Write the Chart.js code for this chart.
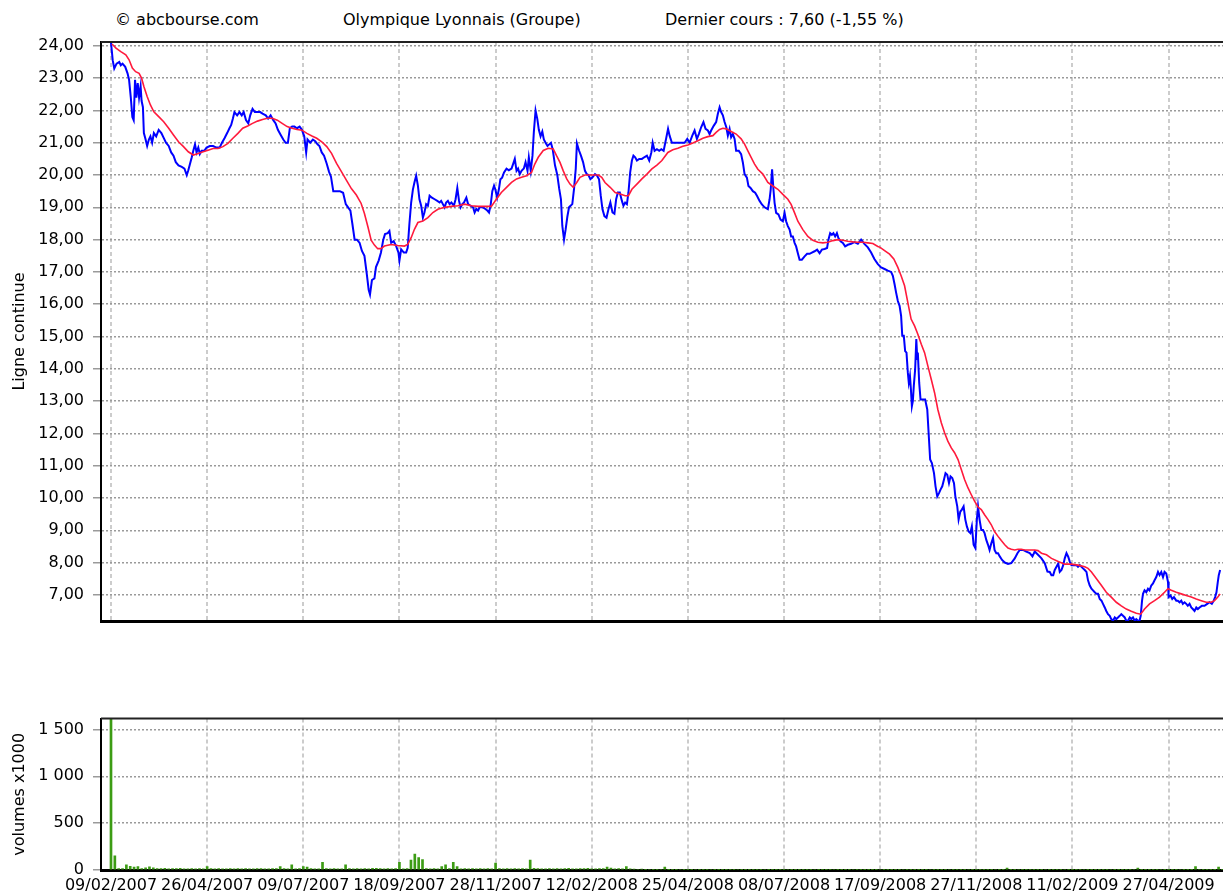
<!DOCTYPE html>
<html>
<head>
<meta charset="utf-8">
<script src="https://cdn.jsdelivr.net/npm/chart.js@4.4.1/dist/chart.umd.min.js"></script>
<style>
  body { margin: 0; background: #fff; width: 1223px; height: 894px; overflow: hidden; position: relative; }
  canvas { position: absolute; left: 0; }
  .head { position: absolute; top: 11px; font: 16px "DejaVu Sans", sans-serif; line-height: 18px; color: #000; white-space: nowrap; }
</style>
</head>
<body>
<div class="head" style="left:115px">© abcbourse.com</div>
<div class="head" style="left:343px">Olympique Lyonnais (Groupe)</div>
<div class="head" style="left:665px">Dernier cours : 7,60 (-1,55 %)</div>
<canvas id="priceChart" width="1223" height="650" style="top:0"></canvas>
<canvas id="volumeChart" width="1223" height="194" style="top:700px"></canvas>
<script>
// x = trading day index since 09/02/2007
const dateLabels = ['09/02/2007', '26/04/2007', '09/07/2007', '18/09/2007', '28/11/2007', '12/02/2008',
  '25/04/2008', '08/07/2008', '17/09/2008', '27/11/2008', '11/02/2009', '27/04/2009'];
const tickDays = [0, 50, 100, 150, 200, 250, 300, 350, 400, 450, 500, 550];
const priceTicks = [7, 8, 9, 10, 11, 12, 13, 14, 15, 16, 17, 18, 19, 20, 21, 22, 23, 24];
const volumeTicks = [0, 500, 1000, 1500];

// closing price (blue), [day, value]
const closePoints = [
  [0,24.1],[0.9,23.55],[1.7,23.3],[2.9,23.45],[4.3,23.5],[5.1,23.4],[6,23.45],[7.4,23.35],[8.6,23.15],[9.4,22.95],
  [10.3,22.4],[11.1,21.8],[11.8,21.7],[12.5,22.95],[13.2,22.4],[13.9,22.85],[14.6,22.4],[15.4,22.75],[15.9,22.3],[16.6,22.1],
  [17.1,21.3],[18,21.1],[18.8,20.9],[19.7,21.1],[20.5,21.2],[21.4,21.0],[22.3,21.3],[23.5,21.2],[24.8,21.4],[26.2,21.3],
  [27.4,21.15],[28.6,21.0],[30,20.9],[31.3,20.7],[32.5,20.6],[33.7,20.4],[35.1,20.3],[36.8,20.25],[38.2,20.2],[39.4,20.0],
  [40.2,20.15],[41.1,20.35],[42,20.55],[42.8,20.75],[43.7,20.95],[44.5,20.7],[45.4,20.85],[46.2,20.65],[47.1,20.75],[48.5,20.75],
  [49.7,20.85],[51.4,20.9],[53.1,20.9],[54.8,20.85],[56.5,20.85],[57.7,21.0],[59.1,21.15],[60.4,21.3],[61.6,21.45],[62.5,21.55],
  [63.4,21.75],[64.2,21.95],[65.6,21.85],[66.8,21.95],[68,21.85],[69,21.95],[70.2,21.7],[71.4,21.6],[72.4,21.85],[73.6,22.05],
  [74.8,21.95],[76.2,21.95],[77.6,21.95],[78.8,21.9],[80.5,21.85],[81.7,21.75],[83,21.85],[84.4,21.7],[85.6,21.6],[86.8,21.4],
  [88.2,21.25],[89.6,21.1],[90.8,21.0],[92,21.0],[93,21.45],[94.2,21.5],[95.4,21.5],[96.7,21.45],[98.1,21.5],[99.3,21.4],
  [100.5,21.2],[101.5,20.7],[102.2,21.1],[103.6,21.0],[105,21.1],[106.2,21.05],[107.4,20.95],[108.4,20.9],[109.6,20.7],[110.8,20.6],
  [112.2,20.35],[113.4,20.1],[114.4,19.95],[115.6,19.5],[117.3,19.5],[119,19.5],[120.7,19.45],[122.1,19.1],[123.3,19.0],[124.5,18.9],
  [125.5,18.5],[126.7,18.0],[127.9,18.0],[129.3,17.9],[130.5,17.65],[131.8,17.5],[133,16.95],[134,16.45],[134.7,16.3],[135.7,16.75],
  [137,16.8],[137.8,17.15],[139.2,17.35],[140.4,17.6],[141.6,18.0],[142.5,18.17],[143.9,18.2],[144.8,18.27],[145.7,17.9],[147,17.95],
  [148.3,17.8],[149.5,17.6],[150,17.35],[150.9,17.7],[152.3,17.6],[153.5,17.6],[154.3,17.75],[155.2,18.5],[156.1,19.15],[157,19.55],
  [157.8,19.77],[158.7,19.98],[159.6,19.67],[160.4,19.25],[161.3,19.05],[162.2,18.68],[163,18.84],[163.9,19.1],[164.8,19.05],[165.7,19.36],
  [166.9,19.3],[168.3,19.25],[169.7,19.2],[170.9,19.15],[171.7,19.2],[172.6,19.1],[173.5,19.0],[174.3,19.15],[175.2,19.2],[176.1,19.1],
  [177,19.15],[178.3,19.05],[179.2,19.25],[180.1,19.6],[181,19.2],[181.8,19.0],[182.7,19.1],[183.6,19.15],[184.8,19.3],[185.7,19.1],
  [187,19.05],[188.3,19.0],[189.1,18.84],[190,18.95],[190.9,18.9],[191.7,19.0],[193.5,19.0],[194.7,18.95],[195.7,18.9],[196.6,18.84],
  [197.5,19.1],[198.3,19.5],[199.2,19.67],[199.9,19.55],[200.8,19.3],[201.7,19.55],[202.5,19.87],[203.4,19.92],[204.4,20.08],[205.7,20.2],
  [206.9,20.15],[208.3,20.2],[209.1,20.34],[210,20.5],[210.9,20.13],[211.7,20.2],[212.6,20.03],[213.5,20.13],[214.7,20.2],[215.6,20.4],
  [216.6,20.13],[217.3,20.55],[218.3,20.13],[219.2,20.6],[219.9,21.33],[220.8,22.0],[221.7,21.74],[222.5,21.4],[223.4,21.2],[224.3,21.35],
  [225.1,21.1],[226,21.0],[227,20.9],[227.9,20.95],[228.8,21.0],[229.7,20.8],[230.9,20.3],[232.1,20.0],[233.1,19.57],[234,19.25],
  [234.7,18.43],[235.6,18.0],[236.4,18.3],[237.3,18.7],[238.2,19.0],[239,19.05],[239.9,19.1],[240.8,19.57],[241.7,20.2],[242.3,20.98],
  [243.4,20.76],[244.4,20.6],[245.5,20.4],[246.5,20.13],[247.4,20.03],[248.3,20.0],[249.3,19.87],[250.3,19.92],[251.7,20.03],[252.8,19.98],
  [253.8,19.87],[254.7,19.36],[255.6,18.94],[256.6,18.73],[257.7,18.68],[258.7,18.94],[259.7,19.15],[260.8,18.84],[261.8,18.8],[262.7,19.25],
  [263.6,19.46],[264.6,19.46],[265.7,19.2],[266.5,19.05],[267.4,19.15],[268.3,19.1],[269.1,19.46],[270,20.08],[270.9,20.45],[271.7,20.6],
  [272.6,20.55],[273.5,20.45],[274.7,20.5],[276.1,20.5],[277.3,20.55],[278.7,20.6],[279.9,20.45],[281,20.7],[281.7,21.0],[282.7,20.75],
  [283.9,20.8],[285.1,20.75],[286.2,20.8],[287.4,20.75],[288.6,21.1],[289.7,21.43],[290.5,21.22],[291.7,21.0],[293.9,21.0],[296.5,21.0],
  [298.3,21.0],[299.7,21.12],[300.9,21.0],[302.3,21.22],[303.5,21.38],[304.7,21.12],[305.7,21.27],[306.9,21.48],[308.1,21.64],[309.2,21.43],
  [310.4,21.38],[311.3,21.27],[312.1,21.38],[313.5,21.53],[314.7,21.64],[315.6,21.9],[316.5,22.1],[317.3,21.95],[318.2,21.85],[319.1,21.64],
  [320,21.48],[320.8,21.22],[321.7,21.43],[322.5,21.17],[323.4,21.27],[324.3,21.12],[325.1,20.75],[326.5,20.75],[327.7,20.65],[328.6,20.39],
  [329.5,20.03],[330.7,19.92],[331.5,19.66],[332.6,19.6],[333.8,19.5],[335,19.45],[336,19.35],[337.3,19.2],[338.5,19.09],[339.9,19.0],
  [341.6,18.94],[342.5,19.25],[343.1,19.56],[343.8,20.18],[344.5,19.56],[345.1,19.14],[345.9,18.83],[347.1,18.78],[348.2,18.62],[349.4,18.57],
  [350.3,18.83],[351.1,18.57],[352,18.42],[352.9,18.31],[353.7,18.1],[354.6,18.1],[355.5,17.9],[356.3,17.79],[357.2,17.58],[358.1,17.38],
  [359.3,17.38],[360.7,17.48],[362,17.56],[363.3,17.56],[364.5,17.6],[365.9,17.64],[367.2,17.69],[368.5,17.58],[369.7,17.69],[371.1,17.71],
  [372.4,17.74],[373.1,18.0],[374,18.2],[374.9,18.15],[375.7,18.2],[376.6,18.1],[377.5,18.2],[378.3,18.05],[379.4,17.95],[380.6,17.9],
  [381.8,17.79],[383.2,17.84],[384.9,17.87],[386.6,17.92],[388.4,17.87],[390.1,18.0],[391.8,17.87],[393.6,17.76],[395.3,17.6],[397,17.4],
  [398.8,17.24],[400.5,17.14],[402.3,17.09],[404,17.04],[405.7,17.0],[406.6,16.88],[407.5,16.62],[408.3,16.36],[409.2,16.1],[410.1,15.95],
  [410.9,15.64],[411.5,15.02],[412.3,15.02],[413,14.55],[413.7,14.5],[414.4,13.88],[414.9,13.57],[415.5,13.78],[416,13.36],[416.5,12.84],
  [417,13.0],[417.5,13.47],[418.2,13.98],[418.8,14.92],[419.3,14.3],[419.6,14.5],[420.3,13.57],[421,13.05],[422.2,13.05],[423.4,13.05],
  [424.5,12.74],[425.2,12.02],[426,11.19],[426.9,11.08],[428,10.77],[428.8,10.36],[429.7,10.05],[430.6,10.15],[431.4,10.26],[432.3,10.36],
  [433.2,10.57],[434,10.77],[434.9,10.72],[435.8,10.46],[436.6,10.67],[437.5,10.62],[438.4,10.46],[439.1,10.05],[440.1,9.74],[440.8,9.33],
  [441.7,9.58],[442.5,9.64],[443.4,9.74],[444.3,9.33],[445.1,9.12],[446,8.96],[446.9,8.91],[447.7,9.12],[448.6,8.55],[449.5,8.45],
  [450.3,9.33],[450.9,9.74],[451.7,9.33],[452.6,9.01],[453.5,9.01],[454.3,8.91],[455.2,8.7],[456.1,8.55],[456.9,8.39],[457.8,8.6],
  [458.7,8.76],[459.5,8.39],[460.4,8.29],[461.3,8.29],[462.2,8.19],[463.4,8.08],[464.8,8.0],[466.5,7.96],[468.2,7.98],[470,8.13],
  [471.4,8.29],[472.6,8.39],[474.3,8.39],[476,8.34],[477.8,8.29],[479.2,8.19],[480.4,8.34],[482.1,8.24],[483.9,8.13],[485.6,7.98],
  [487,7.72],[488.2,7.71],[489.1,7.61],[490,7.61],[490.8,7.77],[491.7,7.87],[492.6,7.97],[493.4,7.71],[494.3,7.77],[495.2,7.92],
  [496,8.13],[496.9,8.29],[497.8,8.18],[498.6,8.03],[499.5,7.92],[500.9,7.92],[502.1,7.92],[502.9,7.87],[503.8,7.92],[504.7,7.87],
  [505.5,7.82],[506.4,7.77],[507.3,7.71],[508.1,7.45],[509,7.29],[509.9,7.19],[510.7,7.14],[511.6,7.08],[512.5,7.03],[513.3,7.03],
  [514.2,6.87],[515.1,6.82],[515.9,6.72],[516.8,6.61],[517.6,6.5],[518.5,6.4],[519.4,6.35],[520.2,6.25],[521.1,6.2],[522,6.3],
  [522.8,6.25],[523.7,6.3],[524.6,6.35],[525.4,6.4],[526.3,6.35],[527.2,6.3],[528,6.2],[528.9,6.2],[529.8,6.3],[530.6,6.25],
  [531.5,6.3],[532.4,6.2],[533.2,6.25],[534.1,6.2],[534.9,6.2],[535.5,6.35],[536.2,6.82],[536.7,7.03],[537.5,7.14],[538.4,7.08],
  [539.3,7.19],[540.1,7.14],[541,7.29],[541.9,7.35],[542.7,7.45],[543.6,7.55],[544.5,7.71],[545.3,7.61],[546.2,7.71],[547.1,7.55],
  [547.9,7.71],[548.8,7.66],[549.7,7.4],[550,6.93],[551,6.98],[551.9,6.87],[552.8,6.93],[554,6.82],[554.8,6.82],[555.7,6.77],
  [556.6,6.82],[557.4,6.72],[558.3,6.77],[559.2,6.72],[560,6.66],[560.9,6.72],[561.8,6.61],[562.6,6.56],[563.5,6.5],[564.4,6.61],
  [565.2,6.56],[566.1,6.61],[567.3,6.66],[568.7,6.66],[570.1,6.72],[571.3,6.77],[572.5,6.72],[573.5,6.82],[574.2,6.93],[574.9,7.08],
  [575.6,7.4],[576.1,7.61],[576.8,7.77]
];

// moving average (red), [day, value]
const averagePoints = [
  [0.5,24.06],[2.6,23.93],[5.1,23.82],[7.7,23.72],[9.4,23.57],[11.1,23.31],[12.8,23.2],[14.6,23.15],[15.9,23.0],[17.1,22.74],
  [18.8,22.43],[20.5,22.17],[22.3,21.96],[24.8,21.81],[27.4,21.65],[30,21.45],[32.5,21.24],[35.1,21.03],[37.7,20.88],[40.2,20.72],
  [42.8,20.62],[45.4,20.67],[47.9,20.72],[50.5,20.77],[53.1,20.82],[55.7,20.82],[58.2,20.88],[60.8,20.98],[63.4,21.14],[66,21.29],
  [68.5,21.45],[71.1,21.52],[73.6,21.6],[76.2,21.67],[78.8,21.72],[81.3,21.76],[83.9,21.76],[86.5,21.7],[89,21.6],[91.6,21.5],
  [94.2,21.45],[96.7,21.41],[99.3,21.39],[101.9,21.29],[104.5,21.21],[107,21.14],[109.6,21.03],[112.2,20.88],[114.7,20.67],[117.3,20.36],
  [119.9,20.1],[122.4,19.84],[125,19.58],[127.6,19.38],[130.1,19.12],[131.8,18.81],[133.6,18.4],[135.3,17.98],[137,17.83],[138.7,17.72],
  [140.4,17.72],[142.2,17.8],[145.7,17.85],[149.1,17.82],[152.6,17.8],[154.3,17.85],[156.1,18.06],[157.8,18.32],[159.6,18.53],[162.2,18.58],
  [164.8,18.68],[167.4,18.84],[170,18.94],[173.5,19.0],[177,19.03],[180.4,19.05],[183.9,19.1],[187.4,19.05],[190.9,19.03],[194.3,19.03],
  [197.8,19.03],[200.4,19.25],[203,19.46],[205.7,19.62],[208.3,19.77],[210.9,19.88],[213.5,19.93],[216.1,19.98],[218.7,20.08],[220.4,20.34],
  [222.2,20.55],[224.8,20.76],[227.4,20.83],[230,20.81],[231.7,20.6],[233.5,20.39],[235.2,20.13],[237,19.88],[238.7,19.72],[240.4,19.62],
  [242.2,19.77],[243.9,19.93],[246.5,20.0],[250,20.0],[253.5,20.0],[255.2,19.93],[256.9,19.77],[259.6,19.62],[262.2,19.46],[264.8,19.41],
  [267.4,19.36],[269.1,19.36],[270.9,19.56],[273.5,19.72],[276.1,19.88],[278.7,20.03],[281.3,20.19],[283.9,20.31],[286.5,20.45],[289.6,20.7],
  [292.2,20.78],[294.8,20.83],[297.4,20.89],[300,20.93],[302.6,20.99],[305.2,21.06],[307.8,21.14],[310.4,21.19],[313,21.22],[314.7,21.32],
  [316.5,21.41],[318.2,21.45],[320,21.43],[322.5,21.35],[325.1,21.27],[327.7,21.12],[329.5,20.96],[331.2,20.75],[332.9,20.55],[334.7,20.34],
  [336.4,20.18],[339,20.03],[341.6,19.77],[344.2,19.66],[346.8,19.56],[349.4,19.4],[352,19.25],[353.7,19.09],[355.5,18.83],[357.2,18.57],
  [359.8,18.31],[362.4,18.1],[365,17.98],[367.6,17.92],[370.2,17.9],[372.8,17.92],[375.4,17.97],[378,18.0],[380.6,17.98],[383.2,17.95],
  [385.8,17.93],[388.4,17.92],[391,17.92],[393.6,17.9],[396.2,17.88],[398.8,17.79],[400,17.76],[402.3,17.66],[404.9,17.55],[407.1,17.4],
  [409.2,17.14],[410.9,16.88],[412.7,16.57],[414.4,16.05],[416.1,15.54],[417.9,15.33],[419.6,15.07],[421.4,14.76],[423.1,14.5],[424.8,14.09],
  [426.6,13.67],[428.3,13.26],[430,12.74],[431.8,12.33],[433.5,12.02],[435.2,11.76],[437,11.55],[438.7,11.4],[440.5,11.19],[442.2,10.88],
  [443.9,10.57],[445.7,10.31],[447.4,10.1],[449.1,9.9],[450.9,9.72],[452.6,9.64],[454.3,9.48],[456.1,9.33],[457.8,9.17],[459.5,8.96],
  [461.3,8.81],[463,8.68],[464.8,8.55],[466.5,8.45],[468.2,8.41],[470,8.39],[471.7,8.41],[473.4,8.41],[475.2,8.39],[477.8,8.39],
  [480.4,8.39],[482.1,8.37],[483.9,8.29],[486.5,8.24],[489.1,8.13],[492.6,8.03],[496,7.95],[499.5,7.95],[502.9,7.92],[506.4,7.87],
  [508.1,7.82],[509.9,7.71],[512.5,7.5],[515.1,7.29],[517.6,7.08],[520.2,6.93],[522.8,6.77],[525.4,6.66],[528,6.56],[530.6,6.49],
  [533.2,6.43],[535.5,6.4],[537.5,6.56],[540.1,6.72],[542.7,6.82],[545.3,6.93],[547.9,7.08],[549.7,7.19],[551.4,7.14],[554,7.08],
  [556.6,7.03],[559.2,6.98],[561.8,6.93],[564.4,6.87],[567,6.82],[569.6,6.77],[572.1,6.77],[573.9,6.82],[575.6,6.93],[576.8,7.03]
];

// volumes x1000, one value every 2 trading days from day 0
const volumeStep = 2;
const volumes = [
  1650,150,15,15,56,40,31,37,14,22,  35,22,15,14,18,12,14,15,18,12,
  13,14,12,15,12,37,14,12,15,13,     12,14,13,15,12,14,13,12,15,14,
  13,12,14,15,37,14,12,56,13,15,     37,31,14,12,13,83,15,12,14,13,
  12,56,14,13,15,12,14,13,18,18,     14,12,15,13,14,83,12,14,106,170,
  133,110,14,13,15,12,37,56,14,83,   37,13,15,12,14,13,14,12,15,13,
  75,14,12,15,13,14,12,15,13,106,    18,14,12,13,15,12,14,13,15,18,
  13,12,14,15,18,12,13,14,15,31,     20,12,14,13,37,12,10,8,9,7,
  8,6,7,8,31,6,7,5,8,6,              7,6,8,5,7,6,8,7,5,6,
  6,7,5,8,6,7,6,5,7,6,               8,6,7,5,6,7,8,6,5,7,
  6,5,7,8,6,7,5,6,8,6,               7,6,5,8,6,7,6,5,7,6,
  8,6,7,5,6,7,8,6,5,7,               6,5,7,8,6,7,5,6,8,6,
  7,6,5,8,6,7,6,5,7,6,               8,6,7,20,6,7,8,6,5,7,
  6,5,7,8,6,7,5,6,8,6,               7,6,5,8,6,7,6,5,7,6,
  8,6,7,5,6,7,8,20,5,7,              6,5,7,8,6,7,5,6,8,6,
  7,6,37,8,6,7,6,5,31,6
];

const FONT = '"DejaVu Sans", sans-serif';
const dayMin = -5.2, dayMax = 578.3;

function frenchPrice(v) {
  return v.toFixed(2).replace('.', ',');
}
function frenchThousands(v) {
  if (v >= 1000) return Math.floor(v / 1000) + ' ' + String(v % 1000).padStart(3, '0');
  return String(v);
}

// top border of the plot frame
const frameTop = {
  id: 'frameTop',
  afterDraw(chart) {
    const a = chart.chartArea, ctx = chart.ctx;
    ctx.save();
    ctx.strokeStyle = '#222';
    ctx.lineWidth = 2;
    ctx.beginPath();
    ctx.moveTo(a.left, a.top);
    ctx.lineTo(a.right, a.top);
    ctx.stroke();
    ctx.restore();
  }
};

const xGrid = { color: '#cccccc', lineWidth: 2, drawTicks: false, offset: false };
const yGrid = { color: '#9a9a9a', lineWidth: 1.5, drawTicks: true, tickLength: 8, tickColor: '#9a9a9a' };

new Chart(document.getElementById('priceChart'), {
  type: 'line',
  data: {
    datasets: [
      {
        data: averagePoints.map(p => ({ x: p[0], y: p[1] })),
        borderColor: '#ff1a3c', borderWidth: 1.6, pointRadius: 0, tension: 0
      },
      {
        data: closePoints.map(p => ({ x: p[0], y: p[1] })),
        borderColor: '#0000ff', borderWidth: 2, pointRadius: 0, tension: 0
      }
    ]
  },
  options: {
    responsive: false,
    animation: false,
    devicePixelRatio: 1,
    layout: { padding: { top: 42, left: 0, right: 0, bottom: 0 } },
    plugins: { legend: { display: false }, tooltip: { enabled: false } },
    scales: {
      x: {
        type: 'linear', min: dayMin, max: dayMax,
        afterBuildTicks: s => { s.ticks = tickDays.map(v => ({ value: v })); },
        afterFit: s => { s.height = 29; },
        ticks: { display: false },
        grid: xGrid,
        border: { color: '#000', width: 3, dash: [4, 3] }
      },
      y: {
        min: 6.19, max: 24.12,
        afterBuildTicks: s => { s.ticks = priceTicks.map(v => ({ value: v })); },
        afterFit: s => { s.width = 101; },
        ticks: { color: '#000', font: { family: FONT, size: 16 }, padding: 9, callback: v => frenchPrice(v) },
        grid: yGrid,
        border: { color: '#000', width: 2, dash: [2, 2] },
        title: { display: true, text: 'Ligne continue', color: '#000', font: { family: FONT, size: 16 }, padding: { top: 10, bottom: 0 } }
      }
    }
  },
  plugins: [frameTop]
});

new Chart(document.getElementById('volumeChart'), {
  type: 'bar',
  data: {
    datasets: [{
      data: volumes.map((v, i) => ({ x: i * volumeStep, y: v })),
      backgroundColor: '#3c9c14',
      barThickness: 2
    }]
  },
  options: {
    responsive: false,
    animation: false,
    devicePixelRatio: 1,
    layout: { padding: { top: 16, left: 0, right: 0, bottom: 0 } },
    plugins: { legend: { display: false }, tooltip: { enabled: false } },
    scales: {
      x: {
        type: 'linear', min: dayMin, max: dayMax, offset: false,
        afterBuildTicks: s => { s.ticks = tickDays.map(v => ({ value: v })); },
        afterFit: s => { s.height = 24; },
        ticks: {
          color: '#000', font: { family: FONT, size: 16 }, padding: 6,
          maxRotation: 0, autoSkip: false,
          callback: v => dateLabels[tickDays.indexOf(v)]
        },
        grid: xGrid,
        border: { color: '#000', width: 3, dash: [4, 3] }
      },
      y: {
        min: 0, max: 1616,
        afterBuildTicks: s => { s.ticks = volumeTicks.map(v => ({ value: v })); },
        afterFit: s => { s.width = 101; },
        ticks: { color: '#000', font: { family: FONT, size: 16 }, padding: 9, callback: v => frenchThousands(v) },
        grid: yGrid,
        border: { color: '#000', width: 2, dash: [2, 2] },
        title: { display: true, text: 'volumes x1000', color: '#000', font: { family: FONT, size: 16 }, padding: { top: 10, bottom: 0 } }
      }
    }
  },
  plugins: [frameTop]
});
</script>
</body>
</html>
